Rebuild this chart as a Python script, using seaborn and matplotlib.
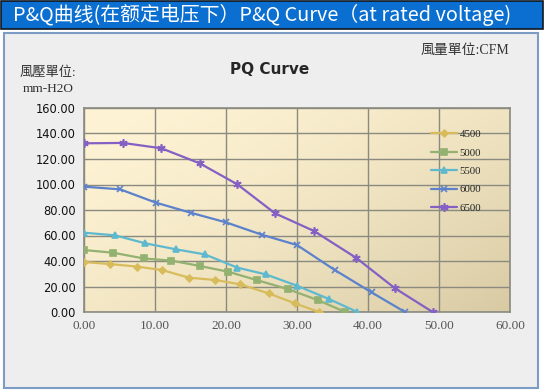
import numpy as np
import pandas as pd
import matplotlib
matplotlib.use("Agg")
import matplotlib.pyplot as plt
from matplotlib.patches import Rectangle
import seaborn as sns

# ---- data (CFM vs mm-H2O) ----
x_4500 = [0.0, 3.7, 7.5, 11.0, 14.8, 18.5, 22.0, 26.0, 29.7, 33.1]
y_4500 = [39.2, 37.6, 35.6, 32.9, 26.9, 25.1, 21.7, 14.6, 6.8, 0.0]
x_5000 = [0.0, 4.1, 8.4, 12.3, 16.3, 20.3, 24.3, 28.8, 32.9, 36.8]
y_5000 = [48.6, 46.5, 42.0, 40.3, 36.1, 31.6, 25.1, 17.8, 9.4, 0.0]
x_5500 = [0.0, 4.4, 8.6, 13.0, 17.0, 21.6, 25.6, 30.0, 34.5, 38.5]
y_5500 = [62.2, 60.1, 53.9, 49.1, 45.2, 34.8, 29.5, 20.6, 10.2, 0.0]
x_6000 = [0.0, 5.1, 10.1, 15.0, 20.0, 25.0, 30.0, 35.3, 40.5, 45.2]
y_6000 = [98.3, 96.2, 85.8, 77.9, 70.3, 60.7, 52.5, 33.0, 15.4, 0.0]
x_6500 = [0.0, 5.5, 10.9, 16.3, 21.6, 26.9, 32.4, 38.3, 43.8, 49.1]
y_6500 = [132.3, 132.6, 128.4, 116.6, 100.1, 77.4, 63.5, 42.6, 18.6, 0.0]

series = ["4500", "5000", "5500", "6000", "6500"]
xs = [x_4500, x_5000, x_5500, x_6000, x_6500]
ys = [y_4500, y_5000, y_5500, y_6000, y_6500]
x_ticks = [0, 10, 20, 30, 40, 50, 60]
y_ticks = [0, 20, 40, 60, 80, 100, 120, 140, 160]

colors = ["#D8BC5C", "#93B171", "#5EB9CF", "#5C82CC", "#8460C4"]
markers = ["D", "s", "^", "x", (6, 2, 0)]
msizes = [3.5, 5, 5, 5, 6]

sns.set_theme(style="white")
plt.rcParams['font.family'] = ['DejaVu Sans']

fig = plt.figure(figsize=(5.45, 3.91), dpi=100)
W, H = 545, 391

def fx(px):
    return px / W
def fy(py):
    return 1 - py / H

# banner
fig.patches.append(Rectangle((fx(1), fy(29)), fx(542), 28 / H, transform=fig.transFigure,
                             facecolor="#0A6FD0", edgecolor="#101820", lw=1.2, zorder=-5))
fig.text(fx(262), fy(15), "P&Q曲线(在额定电压下）P&Q Curve（at rated voltage)",
         color="white", fontsize=14.3, ha="center", va="center",
         family=["Noto Sans CJK SC", "DejaVu Sans"])
# panel
fig.patches.append(Rectangle((fx(4), fy(388)), fx(534), 355 / H, transform=fig.transFigure,
                             facecolor="#EEEEEE", edgecolor="#7C9CC6", lw=1.5, zorder=-5))

ax = fig.add_axes([fx(84), fy(312), fx(426), 204 / H])
ax.set_zorder(2)

# gradient background
gx = np.linspace(0, 1, 200)
gy = np.linspace(0, 1, 200)
GX, GY = np.meshgrid(gx, gy)
t = np.clip(0.55 * GX + 0.45 * GY, 0, 1) ** 1.6
c0 = np.array([254, 243, 212]) / 255
c1 = np.array([216, 202, 163]) / 255
img = c0[None, None, :] * (1 - t[..., None]) + c1[None, None, :] * t[..., None]
ax.imshow(img, extent=[0, 60, 0, 160], aspect="auto", origin="upper", zorder=0)

for name, xv, yv, c, m, ms in zip(series, xs, ys, colors, markers, msizes):
    df = pd.DataFrame({"CFM": xv, "P": yv})
    sns.lineplot(data=df, x="CFM", y="P", ax=ax, color=c, marker=m, markersize=ms,
                 markeredgecolor=c, markeredgewidth=1.2, lw=1.6, label=name, zorder=3,
                 sort=False)

ax.set_xlim(0, 60)
ax.set_ylim(0, 160)
ax.set_xticks(x_ticks)
ax.set_yticks(y_ticks)
ax.set_xticklabels([f"{v:.2f}" for v in x_ticks], family="Liberation Serif", color="#555555", fontsize=9.5)
ax.set_yticklabels([f"{v:.2f}" for v in y_ticks], fontsize=8.3, color="#111111")
ax.tick_params(axis="both", length=0, pad=6)
ax.set_xlabel("")
ax.set_ylabel("")
ax.grid(True, color="#8A8A80", lw=1.0)
for gl in ax.get_xgridlines() + ax.get_ygridlines():
    gl.set_zorder(1)
for s in ax.spines.values():
    s.set_color("#8A8A80")
    s.set_linewidth(1.2)

leg = ax.legend(loc="center left", bbox_to_anchor=(0.815, 0.69), frameon=False,
                prop={"family": "Liberation Serif", "size": 7.8}, handlelength=2.4,
                labelspacing=0.82, handletextpad=0.2, borderaxespad=0.0, borderpad=0.0)

fig.text(fx(270), fy(70), "PQ Curve", fontsize=11, fontweight="bold", ha="center", va="center")
fig.text(fx(48), fy(73), "風壓單位:", fontsize=9.5, ha="center", va="center", color="#333333",
         family=["Liberation Serif", "Noto Sans CJK TC"])
fig.text(fx(48), fy(89), "mm-H2O", fontsize=9.5, ha="center", va="center", color="#333333",
         family=["Liberation Serif"])
fig.text(fx(465), fy(50), "風量單位:CFM", fontsize=10, ha="center", va="center", color="#333333",
         family=["Liberation Serif", "Noto Sans CJK TC"])

fig.savefig("out.png", dpi=100)
